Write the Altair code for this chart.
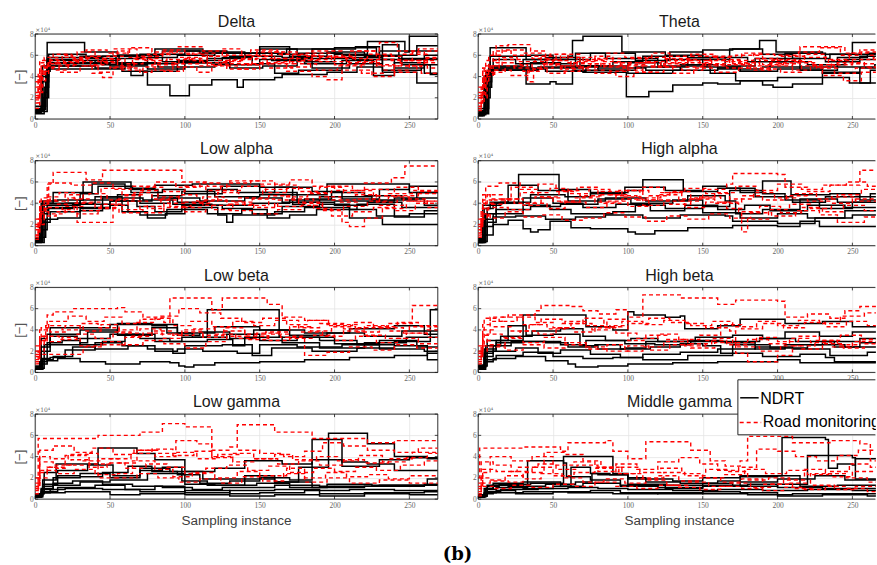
import altair as alt
import pandas as pd

X_END_LEFT = 269
X_END_RIGHT = 265.7
X_TICKS = [0, 50, 100, 150, 200, 250]
Y_TICKS = [0, 2, 4, 6, 8]
TITLES = ["Delta", "Theta", "Low alpha", "High alpha", "Low beta", "High beta", "Low gamma", "Middle gamma"]
X_TITLE = "Sampling instance"
Y_TITLE = "[\u2212]"
EXP_LABEL = "\u00d710\u2074"
LEGEND_LABELS = ["NDRT", "Road monitoring"]
CAPTION = "(b)"

# each series: flat list x0, y0, x1, y1, ... (values in units of 10^4, held until next x)
DELTA_NDRT = [
    [0,0.6, 3,0.8, 6,2.5, 8,7.2, 31,7.2, 33,6.3, 55,6.0, 85,6.4, 110,6.2, 150,6.6, 175,6.2, 205,6.0, 230,6.4, 269,6.4],
    [0,0.6, 4,1.2, 7,4.0, 9,5.0, 40,4.8, 58,4.5, 75,3.2, 90,2.2, 103,3.2, 118,3.7, 135,3.0, 139,3.7, 160,3.9, 165,4.2, 195,4.4, 215,4.9, 232,4.4, 255,3.4, 269,3.4],
    [0,0.7, 5,2.0, 8,5.8, 45,5.9, 70,6.1, 100,6.4, 128,6.2, 168,6.6, 200,6.1, 222,7.3, 247,6.3, 250,7.8, 269,7.8],
    [0,0.8, 6,3.0, 9,4.7, 38,4.7, 60,5.3, 82,4.9, 120,5.1, 150,5.6, 180,5.2, 208,5.8, 232,4.6, 258,5.1, 269,5.1],
    [0,1.0, 4,4.0, 8,5.6, 30,5.9, 54,5.2, 64,4.1, 72,4.5, 95,5.5, 125,5.8, 145,5.2, 160,4.3, 176,4.6, 205,5.5, 226,4.1, 240,5.3, 260,4.3, 269,4.3],
    [0,0.8, 5,3.5, 9,6.1, 32,6.1, 34,5.7, 70,5.8, 80,6.6, 112,6.3, 140,5.9, 165,5.8, 185,6.6, 214,6.8, 230,5.6, 269,5.6],
    [0,0.5, 6,2.0, 9,5.2, 50,5.0, 75,4.7, 100,5.3, 130,5.9, 150,6.8, 170,5.9, 195,6.3, 220,5.9, 245,5.1, 264,4.2, 269,4.2],
    [0,1.2, 5,5.0, 40,5.5, 56,6.0, 85,5.4, 115,5.7, 140,6.2, 162,6.1, 180,5.4, 200,6.7, 228,6.0, 255,6.9, 269,6.9],
    [0,0.9, 7,4.5, 10,5.5, 45,5.1, 75,5.8, 95,6.0, 120,6.2, 158,5.5, 185,4.8, 210,5.2, 232,7.0, 243,5.7, 269,5.7],
    [0,0.7, 8,5.3, 60,5.2, 95,5.3, 130,4.8, 152,5.0, 175,5.7, 212,5.6, 240,4.8, 260,6.0, 269,6.0],
]
DELTA_ROAD = [
    [0,1.5, 2,3.0, 4,5.0, 10,5.6, 18,6.0, 25,5.5, 35,5.9, 45,5.3, 55,6.4, 62,5.8, 75,6.1, 90,5.6, 105,6.2, 120,5.5, 140,6.0, 160,5.4, 180,5.9, 200,5.1, 220,5.6, 245,5.0, 260,5.7, 269,5.7],
    [0,2.0, 3,4.5, 8,5.2, 20,5.8, 32,5.0, 42,4.4, 50,4.9, 65,5.6, 80,4.6, 92,5.2, 110,5.9, 125,6.6, 138,5.7, 155,5.2, 172,6.0, 190,5.4, 210,6.4, 228,5.1, 240,4.4, 255,5.3, 269,5.3],
    [0,3.0, 2,4.0, 6,5.8, 15,5.3, 28,6.3, 40,5.7, 52,6.6, 68,5.9, 85,6.5, 100,6.1, 115,5.1, 130,5.6, 148,6.3, 165,5.7, 185,6.4, 205,5.7, 222,6.1, 238,5.5, 252,6.3, 260,5.8, 269,5.8],
    [0,1.0, 3,2.5, 5,4.8, 12,4.6, 22,5.4, 38,4.3, 45,3.9, 52,4.8, 70,4.4, 78,5.1, 95,4.9, 108,4.4, 118,5.0, 135,4.7, 150,5.3, 168,4.5, 185,4.0, 195,3.7, 205,4.6, 225,4.0, 240,5.0, 258,4.3, 269,4.3],
    [0,2.5, 4,5.3, 14,5.0, 26,5.7, 37,5.1, 48,5.9, 60,5.2, 72,5.5, 88,6.2, 103,5.5, 115,5.9, 128,5.2, 145,5.9, 158,6.3, 175,5.5, 190,5.8, 208,5.3, 230,5.9, 246,6.1, 262,6.4, 269,6.4],
    [0,1.8, 3,3.6, 7,4.9, 16,4.4, 30,5.0, 44,5.6, 58,4.6, 72,4.9, 86,4.5, 99,5.7, 112,5.3, 128,4.7, 142,5.2, 156,4.8, 172,5.2, 188,4.6, 202,5.0, 218,4.3, 233,4.6, 250,5.5, 269,5.5],
    [0,3.5, 3,5.5, 12,6.1, 24,5.6, 34,6.5, 48,6.2, 63,6.7, 78,6.3, 95,6.8, 112,6.4, 128,6.0, 144,6.5, 162,6.1, 180,6.2, 198,5.8, 214,6.4, 230,7.2, 242,6.4, 256,6.6, 269,6.6],
    [0,2.2, 2,4.2, 9,5.5, 19,5.1, 29,5.8, 42,5.4, 55,5.0, 66,5.7, 82,5.3, 96,5.8, 110,5.0, 124,5.4, 138,5.1, 152,5.7, 170,4.9, 184,5.6, 198,5.9, 214,5.4, 228,5.0, 244,5.5, 262,4.8, 269,4.8],
]

THETA_NDRT = [
    [0,0.3, 3,0.6, 6,4.5, 8,6.7, 30,6.7, 32,5.6, 60,5.9, 63,7.4, 70,7.8, 94,7.8, 96,6.3, 125,6.0, 150,6.5, 170,6.6, 188,7.4, 199,6.3, 230,6.1, 250,7.2, 269,7.2],
    [0,0.3, 4,1.0, 7,4.6, 30,4.6, 32,3.3, 48,3.5, 52,3.3, 63,4.6, 100,4.3, 130,4.6, 160,4.8, 175,4.5, 200,4.7, 230,4.3, 255,4.8, 269,4.8],
    [0,0.5, 5,2.0, 8,4.6, 40,4.8, 70,4.4, 99,2.1, 114,2.6, 130,3.2, 150,3.4, 160,3.3, 175,3.6, 190,3.2, 197,3.0, 210,3.3, 230,4.4, 255,3.4, 269,3.4],
    [0,0.8, 5,4.4, 10,5.6, 25,5.2, 45,5.8, 68,5.0, 90,5.4, 110,5.9, 140,5.6, 168,6.6, 190,6.1, 210,5.7, 235,6.1, 269,6.1],
    [0,1.0, 4,3.5, 9,4.9, 35,5.3, 55,5.0, 80,4.6, 105,4.9, 125,5.6, 150,4.9, 175,4.5, 195,5.4, 220,5.1, 245,5.6, 269,5.6],
    [0,0.6, 6,4.2, 10,5.0, 30,5.6, 50,5.2, 65,6.2, 85,5.7, 120,4.9, 140,5.8, 165,5.0, 185,5.7, 215,4.9, 240,5.8, 260,6.2, 269,6.2],
    [0,0.4, 5,3.0, 9,4.7, 45,4.5, 72,5.0, 100,5.3, 122,5.0, 155,4.3, 172,3.6, 200,3.9, 228,3.9, 248,3.4, 262,4.6, 269,4.6],
    [0,0.7, 4,4.0, 8,5.9, 35,6.0, 50,5.6, 75,6.2, 105,5.5, 128,6.3, 150,5.8, 180,5.4, 205,6.2, 232,5.4, 255,5.9, 269,5.9],
    [0,0.5, 7,4.8, 40,4.9, 80,4.8, 112,4.6, 135,5.1, 160,4.7, 190,4.9, 215,4.6, 240,4.9, 265,5.1, 269,5.1],
]
THETA_ROAD = [
    [0,1.0, 2,3.0, 5,5.5, 12,6.9, 20,7.0, 35,6.4, 45,5.6, 55,6.1, 68,5.2, 80,5.7, 95,4.6, 110,5.0, 125,5.9, 140,5.3, 155,5.8, 170,5.1, 185,5.7, 200,5.2, 215,6.8, 245,6.2, 255,6.5, 269,6.5],
    [0,2.0, 3,4.5, 8,5.0, 16,5.6, 28,5.1, 33,3.5, 37,4.8, 50,5.5, 62,4.8, 75,5.2, 88,4.5, 100,5.3, 118,4.9, 132,5.6, 148,5.0, 165,5.4, 178,4.8, 195,5.3, 210,4.6, 222,5.1, 238,4.3, 252,4.8, 269,4.8],
    [0,1.5, 4,4.0, 10,6.4, 22,6.0, 36,5.7, 48,6.1, 60,5.3, 72,5.6, 86,6.2, 98,5.8, 112,5.4, 126,5.7, 142,6.1, 158,5.9, 172,6.0, 188,5.5, 202,5.9, 218,6.1, 232,5.6, 248,6.2, 262,6.0, 269,6.0],
    [0,2.5, 3,4.8, 9,4.4, 18,5.0, 30,4.5, 42,5.2, 55,4.7, 66,5.8, 78,4.3, 92,4.0, 104,4.4, 116,4.9, 130,4.3, 144,4.8, 158,4.4, 174,5.3, 188,4.7, 202,4.4, 216,5.0, 230,4.1, 244,3.6, 256,4.4, 269,4.4],
    [0,0.8, 2,2.0, 6,4.6, 14,5.8, 26,5.4, 38,5.9, 52,5.0, 64,5.4, 78,5.9, 90,5.3, 102,5.7, 116,6.2, 128,5.5, 142,5.9, 160,5.6, 176,6.2, 190,5.1, 204,5.5, 218,5.8, 234,5.1, 250,5.6, 269,5.6],
    [0,3.0, 4,5.0, 12,5.3, 24,4.8, 36,5.4, 46,4.3, 58,5.0, 70,4.6, 84,5.0, 96,4.8, 108,5.3, 122,5.0, 136,4.6, 150,5.2, 166,4.8, 180,5.0, 196,5.6, 212,5.3, 226,4.8, 240,5.3, 258,4.9, 269,4.9],
    [0,1.2, 3,3.5, 7,6.0, 16,6.5, 30,6.2, 42,5.5, 56,5.8, 70,5.5, 84,4.9, 98,5.1, 112,5.8, 126,5.3, 140,5.5, 156,5.1, 170,5.5, 184,6.1, 198,6.0, 214,6.3, 228,6.7, 242,6.0, 256,6.3, 269,6.3],
    [0,2.2, 5,4.2, 11,4.6, 22,4.1, 34,4.7, 44,5.1, 56,4.5, 68,4.9, 82,5.4, 96,5.0, 110,4.4, 124,5.2, 138,4.9, 152,5.5, 168,5.2, 182,4.6, 196,5.0, 210,5.4, 224,4.9, 236,5.5, 250,5.2, 264,5.8, 269,5.8],
]

LOW_ALPHA_NDRT = [
    [0,0.4, 3,1.0, 5,4.2, 15,4.3, 32,6.0, 62,6.0, 64,5.0, 85,5.3, 100,4.9, 125,5.6, 150,5.0, 175,4.8, 195,5.8, 240,5.8, 250,5.0, 269,5.0],
    [0,0.3, 4,0.8, 7,2.5, 15,2.6, 30,3.5, 50,3.8, 62,3.2, 75,2.6, 87,3.0, 100,3.6, 122,2.9, 128,2.2, 132,2.9, 160,3.2, 180,3.6, 210,2.6, 232,2.0, 269,2.0],
    [0,0.5, 4,3.5, 8,3.8, 30,4.3, 55,4.8, 70,4.0, 90,4.5, 110,4.2, 140,4.5, 165,4.1, 190,4.6, 225,4.3, 255,5.0, 269,5.0],
    [0,0.6, 3,2.0, 6,4.0, 30,4.9, 42,5.6, 65,5.3, 82,4.5, 95,4.1, 115,5.3, 135,5.0, 160,5.5, 185,5.1, 205,4.4, 230,5.3, 250,5.6, 269,5.6],
    [0,0.4, 5,3.0, 9,3.6, 32,3.6, 50,4.2, 68,3.7, 80,3.2, 98,3.8, 125,3.5, 145,3.0, 165,3.7, 190,3.9, 210,3.4, 228,2.8, 250,3.0, 269,3.0],
    [0,0.7, 4,4.0, 12,5.0, 30,5.0, 38,5.8, 60,5.4, 80,5.7, 105,5.8, 130,5.8, 150,5.5, 172,3.9, 180,4.4, 198,5.0, 220,4.7, 245,4.4, 260,3.8, 269,3.8],
    [0,0.3, 6,2.2, 10,3.2, 30,3.3, 45,4.5, 72,4.3, 92,3.9, 118,3.8, 145,4.0, 170,4.3, 200,4.2, 240,4.5, 269,4.5],
    [0,0.5, 5,3.8, 20,4.0, 40,4.6, 58,3.2, 70,2.9, 88,3.4, 115,3.0, 138,3.4, 155,2.6, 170,2.9, 188,3.4, 215,3.9, 240,2.7, 260,3.3, 269,3.3],
    [0,0.4, 3,1.5, 8,3.5, 25,3.9, 50,4.2, 78,4.7, 98,5.1, 120,4.6, 150,4.8, 175,4.1, 200,3.8, 222,4.1, 245,3.6, 269,3.6],
]
LOW_ALPHA_ROAD = [
    [0,1.0, 3,3.5, 8,5.8, 12,6.9, 30,6.9, 34,6.2, 45,7.1, 95,7.1, 98,6.0, 115,5.6, 130,6.1, 150,5.8, 170,6.2, 185,5.6, 200,5.2, 220,5.9, 238,6.4, 247,7.5, 269,7.5],
    [0,0.8, 2,2.5, 6,4.3, 14,3.9, 22,4.5, 28,2.2, 50,2.2, 52,3.8, 62,4.2, 75,3.5, 86,4.0, 100,3.6, 112,4.3, 128,3.9, 145,4.4, 160,3.7, 178,4.1, 192,3.4, 205,2.2, 210,1.8, 220,2.6, 232,3.5, 248,4.2, 269,4.2],
    [0,2.0, 4,4.5, 10,4.2, 20,4.8, 32,4.1, 44,5.4, 58,4.7, 70,5.2, 82,4.3, 96,4.8, 108,4.2, 122,5.0, 136,4.5, 152,5.3, 168,4.6, 182,4.9, 196,4.3, 214,4.8, 228,4.1, 242,4.7, 256,5.1, 269,5.1],
    [0,1.5, 3,3.0, 7,3.6, 18,3.4, 26,4.0, 40,3.6, 54,4.4, 66,5.0, 78,4.4, 90,3.7, 104,4.0, 118,3.4, 132,4.1, 146,3.6, 162,4.3, 176,4.0, 190,4.6, 204,4.1, 216,4.4, 230,3.8, 246,4.4, 262,3.6, 269,3.6],
    [0,2.5, 4,3.8, 9,5.9, 24,5.7, 38,5.9, 52,5.3, 64,5.6, 80,6.0, 94,5.5, 110,5.9, 124,5.2, 138,5.6, 154,5.0, 168,5.4, 184,5.0, 198,5.6, 212,5.2, 226,4.7, 240,5.5, 256,4.9, 269,4.9],
    [0,0.6, 2,2.0, 6,2.8, 14,3.2, 28,3.0, 42,3.5, 56,3.1, 70,3.7, 84,4.6, 98,4.1, 112,4.6, 126,4.2, 140,3.8, 156,4.7, 170,4.4, 186,3.5, 198,2.8, 212,3.2, 226,3.6, 240,3.3, 254,4.0, 269,4.0],
    [0,1.8, 3,4.2, 8,4.6, 16,5.0, 26,4.4, 36,4.9, 48,4.3, 60,4.8, 72,5.5, 86,5.1, 100,5.6, 114,5.2, 128,5.9, 144,6.1, 160,5.7, 176,5.1, 190,5.5, 206,5.0, 220,5.3, 236,4.9, 252,5.2, 269,5.2],
    [0,1.0, 3,3.2, 9,3.0, 20,3.7, 32,3.3, 44,3.9, 58,3.4, 72,3.1, 86,3.6, 100,3.2, 114,3.8, 130,3.3, 146,3.0, 162,3.4, 178,3.8, 192,3.3, 206,3.7, 222,4.2, 236,4.6, 250,4.2, 269,4.2],
]

HIGH_ALPHA_NDRT = [
    [0,0.3, 3,1.0, 6,3.5, 10,4.0, 27,6.7, 52,6.7, 54,5.3, 75,5.0, 100,5.2, 110,6.2, 135,6.2, 137,5.1, 160,5.4, 175,5.0, 190,6.1, 207,6.1, 209,4.8, 235,4.9, 255,4.6, 269,4.6],
    [0,0.3, 5,1.0, 10,2.0, 20,2.4, 30,1.6, 35,1.3, 40,1.5, 48,2.3, 62,1.7, 75,1.6, 100,1.3, 105,1.1, 118,1.4, 140,1.7, 170,1.9, 200,1.8, 215,2.3, 228,1.8, 269,1.8],
    [0,0.5, 4,2.5, 10,3.0, 30,3.8, 48,3.4, 62,3.0, 90,3.2, 105,3.8, 125,3.5, 150,3.1, 175,2.6, 200,3.0, 220,2.6, 245,3.3, 269,3.3],
    [0,0.6, 4,3.5, 8,4.1, 20,5.7, 40,5.2, 60,4.2, 85,4.5, 112,4.2, 140,4.7, 165,4.2, 172,3.0, 190,3.4, 215,4.4, 240,4.1, 262,4.9, 269,4.9],
    [0,0.4, 6,2.2, 12,3.4, 35,3.7, 55,3.9, 80,4.4, 102,4.0, 130,4.3, 150,3.7, 168,5.2, 190,4.9, 205,4.3, 228,3.5, 250,4.1, 269,4.1],
    [0,0.5, 5,3.0, 12,4.0, 30,4.5, 50,4.0, 70,3.6, 92,3.9, 115,3.3, 138,3.8, 160,3.4, 178,3.8, 195,3.3, 220,3.8, 245,3.6, 269,3.6],
    [0,0.3, 4,1.8, 10,2.7, 25,2.8, 45,2.5, 65,2.7, 85,2.9, 110,2.6, 135,2.9, 165,2.8, 170,2.3, 200,2.1, 225,2.6, 250,2.9, 269,2.9],
    [0,0.7, 3,3.8, 15,4.1, 35,4.8, 58,4.6, 75,4.9, 98,5.5, 125,5.2, 150,5.6, 166,5.4, 185,4.6, 210,4.1, 232,4.6, 255,4.3, 269,4.3],
]
HIGH_ALPHA_ROAD = [
    [0,1.2, 2,3.5, 5,5.6, 14,5.9, 28,5.3, 40,5.8, 52,5.1, 66,5.5, 80,4.8, 94,5.2, 108,4.5, 122,5.0, 136,4.4, 150,5.3, 166,5.8, 170,6.8, 200,6.7, 205,5.5, 220,5.1, 235,5.7, 255,7.1, 269,7.1],
    [0,2.0, 3,4.3, 9,3.9, 18,4.4, 30,3.8, 42,4.5, 55,4.1, 68,4.6, 82,4.0, 96,4.4, 110,3.8, 124,4.2, 138,3.6, 152,4.1, 166,3.5, 176,1.3, 180,2.5, 194,3.4, 208,3.9, 222,3.5, 236,4.0, 250,4.4, 269,4.4],
    [0,0.8, 2,2.5, 6,4.8, 16,4.4, 28,5.0, 40,4.6, 54,5.2, 68,4.7, 82,5.1, 96,4.6, 110,5.5, 124,5.0, 138,5.4, 152,4.9, 168,4.4, 184,5.0, 198,4.5, 212,4.9, 226,4.4, 240,4.8, 256,5.3, 269,5.3],
    [0,1.5, 3,3.0, 8,2.6, 18,3.2, 30,2.7, 42,2.9, 56,2.4, 70,2.6, 84,3.1, 98,2.7, 112,2.3, 126,2.8, 140,2.5, 154,3.0, 168,2.6, 182,3.1, 196,2.8, 212,3.3, 228,2.9, 240,2.2, 258,2.7, 269,2.7],
    [0,2.5, 3,4.8, 8,4.4, 22,5.5, 36,5.0, 48,5.4, 60,4.9, 74,5.3, 88,4.8, 100,5.2, 114,4.7, 128,5.1, 142,4.5, 158,5.0, 172,5.6, 186,5.2, 200,5.8, 216,5.3, 230,5.7, 246,6.0, 260,5.6, 269,5.6],
    [0,1.0, 2,2.8, 7,3.6, 20,3.4, 34,4.0, 46,3.5, 58,4.1, 72,3.6, 86,4.2, 100,3.7, 114,4.3, 128,3.9, 142,4.4, 158,4.0, 174,3.2, 188,3.7, 202,3.1, 216,3.6, 230,3.2, 244,3.8, 258,3.3, 269,3.3],
    [0,1.8, 3,4.0, 10,4.3, 24,4.0, 38,4.6, 50,4.2, 64,4.5, 78,4.1, 92,4.7, 106,4.3, 120,4.8, 134,4.2, 148,4.6, 162,4.1, 176,4.7, 190,4.3, 206,4.7, 220,4.2, 236,4.6, 252,4.2, 269,4.2],
]

LOW_BETA_NDRT = [
    [0,0.3, 3,0.8, 8,1.1, 15,1.3, 30,1.0, 46,1.0, 47,0.8, 70,1.0, 90,0.9, 96,0.6, 100,0.5, 106,0.7, 120,0.9, 150,1.0, 180,1.2, 210,1.4, 240,1.6, 262,1.8, 269,1.8],
    [0,0.4, 4,2.0, 10,4.2, 30,4.2, 50,4.5, 85,4.5, 95,3.7, 120,4.3, 150,4.0, 180,3.7, 210,4.1, 240,4.4, 260,3.6, 269,3.6],
    [0,0.5, 3,1.0, 8,2.8, 18,3.0, 30,2.6, 45,2.9, 60,3.6, 80,2.9, 98,3.3, 115,5.9, 161,5.9, 163,3.3, 190,3.0, 215,2.6, 240,2.9, 264,5.9, 269,5.9],
    [0,0.3, 5,1.3, 10,1.4, 20,2.1, 40,2.8, 58,2.5, 75,2.2, 92,1.8, 100,2.5, 125,2.6, 145,1.6, 158,2.3, 185,2.0, 215,2.3, 240,2.5, 262,1.2, 269,1.2],
    [0,0.6, 4,3.2, 8,3.6, 30,4.0, 55,3.5, 78,4.2, 95,3.5, 110,3.8, 130,3.2, 146,4.0, 170,3.5, 195,3.7, 220,3.4, 245,3.9, 269,3.9],
    [0,0.4, 6,2.6, 30,2.8, 35,3.8, 55,4.6, 78,4.4, 88,3.7, 105,3.3, 128,3.6, 150,3.0, 175,3.3, 200,2.7, 230,3.0, 255,2.4, 269,2.4],
    [0,0.3, 5,1.2, 12,1.5, 25,2.4, 40,2.2, 62,2.5, 80,2.0, 95,2.2, 112,2.0, 135,1.8, 150,2.6, 175,2.4, 205,2.6, 230,2.2, 260,2.0, 269,2.0],
    [0,0.5, 4,2.4, 10,3.4, 28,3.2, 50,3.6, 70,3.2, 90,2.9, 115,3.1, 132,2.5, 140,3.3, 165,2.8, 190,2.3, 220,2.8, 248,3.3, 269,3.3],
]
LOW_BETA_ROAD = [
    [0,1.0, 3,3.0, 8,5.4, 12,5.7, 25,6.0, 55,6.1, 60,5.7, 72,5.2, 86,4.7, 90,7.0, 115,7.0, 118,5.9, 125,7.0, 150,7.0, 155,6.4, 165,5.2, 180,4.9, 195,4.5, 215,4.2, 235,4.6, 252,6.3, 269,6.3],
    [0,1.7, 30,1.7, 32,2.4, 45,2.6, 60,3.3, 72,3.7, 85,3.2, 98,3.8, 112,3.3, 126,4.2, 140,3.6, 155,3.0, 170,3.4, 180,1.6, 195,1.9, 210,2.4, 225,2.1, 240,2.6, 255,2.3, 269,2.3],
    [0,2.5, 4,4.2, 10,3.8, 20,4.4, 32,3.9, 44,4.5, 56,4.0, 68,4.7, 80,5.1, 92,4.4, 104,4.8, 118,4.3, 132,4.8, 146,4.4, 160,4.9, 176,4.2, 190,4.6, 206,4.1, 220,4.4, 236,3.9, 250,4.3, 269,4.3],
    [0,0.8, 2,2.0, 6,3.4, 16,3.1, 28,3.6, 40,3.2, 52,3.8, 64,3.4, 78,3.9, 92,3.5, 106,4.1, 120,3.6, 134,3.2, 148,3.7, 164,3.3, 178,3.8, 192,3.4, 206,3.9, 220,3.5, 234,3.2, 248,3.7, 262,3.3, 269,3.3],
    [0,1.5, 3,4.0, 9,4.8, 22,5.3, 34,4.8, 46,5.2, 58,4.6, 70,5.0, 84,5.3, 96,6.0, 110,5.6, 124,5.1, 138,4.7, 152,5.1, 168,4.5, 182,4.9, 196,4.4, 212,4.7, 226,4.3, 242,4.7, 256,4.4, 269,4.4],
    [0,2.0, 3,3.4, 8,2.9, 18,3.3, 30,2.5, 44,2.9, 58,2.6, 72,3.0, 86,2.7, 100,2.3, 114,2.9, 128,3.4, 142,3.1, 156,3.6, 170,3.2, 186,3.5, 200,3.0, 214,3.4, 228,2.8, 242,3.2, 256,2.7, 269,2.7],
    [0,1.2, 3,3.0, 7,4.4, 18,4.0, 30,4.6, 42,4.2, 56,3.7, 70,4.1, 84,3.6, 98,4.0, 112,3.5, 126,3.9, 140,3.4, 154,3.8, 170,4.3, 184,3.9, 198,4.3, 214,3.8, 230,4.2, 246,3.7, 262,4.0, 269,4.0],
]

HIGH_BETA_NDRT = [
    [0,0.5, 5,1.0, 10,1.3, 25,1.5, 45,1.1, 60,0.8, 65,0.5, 80,0.6, 100,0.8, 130,0.9, 160,1.0, 190,1.0, 200,1.2, 215,0.9, 240,0.9, 269,0.9],
    [0,0.6, 5,2.0, 12,3.0, 28,3.0, 30,5.4, 70,5.4, 72,4.3, 90,4.0, 100,5.7, 104,5.4, 125,5.2, 135,5.3, 138,4.1, 160,4.4, 175,5.0, 200,5.0, 205,4.6, 230,4.8, 250,4.3, 269,4.3],
    [0,0.4, 4,1.5, 10,2.0, 25,2.3, 40,1.8, 55,2.1, 75,1.7, 95,1.4, 110,1.7, 135,1.9, 160,2.2, 185,2.4, 210,2.2, 235,1.6, 260,1.9, 269,1.9],
    [0,0.7, 5,2.5, 15,3.4, 28,3.4, 36,3.9, 55,4.1, 70,3.4, 85,3.0, 102,3.2, 120,2.9, 145,3.3, 170,3.5, 190,3.2, 205,3.8, 228,3.4, 250,3.8, 269,3.8],
    [0,0.5, 4,1.8, 10,2.5, 22,2.9, 45,2.8, 60,2.4, 78,2.6, 95,2.2, 115,2.4, 135,2.7, 150,2.5, 162,1.8, 170,2.6, 195,2.3, 220,2.6, 245,2.4, 269,2.4],
    [0,0.6, 6,3.0, 20,4.4, 28,4.4, 32,3.5, 50,3.6, 68,2.5, 80,2.2, 98,2.3, 112,2.9, 140,3.0, 162,2.9, 188,3.2, 212,2.9, 238,2.4, 255,2.8, 269,2.8],
    [0,0.3, 5,1.2, 12,1.6, 30,1.9, 50,1.5, 70,1.3, 90,1.4, 110,1.2, 140,1.6, 170,1.8, 190,1.5, 215,1.7, 232,1.4, 238,1.0, 269,1.0],
    [0,0.5, 4,2.2, 12,2.8, 30,2.9, 55,2.6, 72,3.0, 98,2.7, 118,2.6, 142,2.9, 165,2.8, 185,2.2, 205,2.6, 230,2.9, 255,3.2, 269,3.2],
]
HIGH_BETA_ROAD = [
    [0,2.0, 3,4.5, 8,5.2, 20,5.4, 38,5.8, 42,6.3, 62,6.2, 70,5.8, 80,5.5, 92,5.9, 100,5.2, 110,7.3, 135,7.0, 160,6.4, 172,6.8, 200,6.7, 205,5.2, 220,5.5, 235,5.1, 245,5.8, 255,6.2, 269,6.2],
    [0,1.5, 3,3.5, 8,4.8, 16,5.2, 30,4.5, 42,5.0, 56,4.6, 70,5.1, 84,4.3, 96,4.8, 110,4.5, 124,4.9, 138,4.6, 152,4.2, 168,3.9, 172,1.8, 180,1.0, 200,1.6, 210,2.5, 225,3.0, 240,2.6, 255,3.1, 269,3.1],
    [0,1.0, 2,2.5, 6,3.6, 16,3.3, 28,3.9, 40,3.6, 52,4.2, 64,3.8, 78,4.2, 92,3.7, 106,3.2, 120,3.6, 134,3.1, 148,3.5, 162,4.5, 176,4.1, 190,4.6, 204,4.2, 218,4.7, 232,4.3, 246,4.8, 260,4.4, 269,4.4],
    [0,2.5, 4,5.1, 14,4.8, 26,5.2, 38,4.7, 50,4.2, 62,4.6, 76,4.0, 88,4.4, 100,3.0, 112,3.5, 126,3.1, 140,2.7, 156,3.2, 170,2.8, 186,3.3, 200,2.9, 214,3.4, 228,3.0, 242,3.5, 256,3.1, 269,3.1],
    [0,1.2, 3,3.0, 8,2.6, 18,3.2, 30,2.8, 44,3.3, 58,2.6, 72,2.2, 86,2.6, 98,2.0, 110,2.4, 124,2.9, 138,2.5, 152,3.0, 166,2.6, 180,3.1, 194,2.7, 208,3.2, 222,2.8, 236,2.4, 250,2.9, 269,2.9],
    [0,1.8, 3,4.0, 10,4.3, 22,3.9, 34,4.5, 46,4.1, 58,4.8, 72,4.4, 86,5.0, 100,4.6, 114,5.1, 128,4.7, 142,4.4, 156,4.8, 170,4.3, 186,4.8, 200,4.4, 214,4.9, 228,4.6, 242,5.3, 258,5.6, 269,5.6],
    [0,0.8, 2,2.0, 6,2.4, 18,2.1, 30,2.6, 44,2.3, 58,2.8, 72,2.4, 86,2.0, 100,2.5, 114,2.1, 128,2.6, 142,2.3, 158,2.8, 172,2.4, 188,2.0, 202,2.5, 216,2.2, 230,2.7, 244,2.3, 258,2.7, 269,2.7],
]

LOW_GAMMA_NDRT = [
    [0,0.2, 4,0.6, 10,0.9, 20,1.0, 45,0.9, 70,0.7, 100,0.8, 130,0.5, 150,0.6, 180,0.8, 210,0.9, 240,0.8, 269,0.8],
    [0,0.3, 5,1.2, 12,1.5, 25,1.7, 45,1.4, 65,1.2, 85,1.1, 105,0.9, 125,1.1, 160,1.3, 190,1.2, 230,1.3, 269,1.3],
    [0,0.4, 5,1.8, 14,3.3, 30,3.3, 42,4.8, 65,4.8, 68,4.3, 80,3.7, 100,2.6, 120,2.9, 140,3.6, 165,3.3, 185,3.7, 205,3.1, 230,3.7, 250,3.9, 269,3.9],
    [0,0.3, 4,1.0, 12,2.0, 30,2.1, 45,2.5, 62,3.1, 78,2.6, 95,2.3, 110,1.5, 130,1.7, 150,2.0, 170,1.8, 185,5.6, 203,5.6, 205,3.5, 222,3.3, 240,2.7, 269,2.7],
    [0,0.5, 6,2.5, 15,2.7, 35,3.2, 52,2.2, 70,2.7, 85,3.0, 98,1.7, 115,1.3, 140,1.9, 160,1.6, 185,1.1, 220,1.2, 260,1.4, 269,1.4],
    [0,0.2, 4,0.7, 15,1.1, 40,1.3, 60,0.9, 80,1.2, 100,0.6, 130,0.8, 160,0.9, 190,0.5, 220,0.6, 260,0.7, 269,0.7],
    [0,0.4, 5,1.4, 15,2.2, 30,2.4, 50,2.0, 70,2.9, 90,2.6, 112,1.9, 140,2.2, 160,1.6, 176,3.0, 196,6.2, 218,6.2, 222,5.2, 240,4.0, 262,3.8, 269,3.8],
    [0,0.3, 4,0.9, 12,1.3, 30,1.6, 50,1.8, 75,2.4, 100,1.4, 120,1.3, 148,1.5, 170,1.1, 195,1.4, 225,1.3, 262,1.9, 269,1.9],
    [0,0.2, 5,0.6, 20,0.7, 50,0.4, 70,0.5, 100,0.4, 130,0.3, 160,0.4, 190,0.3, 220,0.5, 250,0.4, 269,0.4],
]
LOW_GAMMA_ROAD = [
    [0,0.5, 2,5.7, 38,5.7, 42,6.0, 70,6.3, 85,7.1, 100,6.8, 115,6.8, 118,4.6, 130,4.9, 135,7.0, 158,7.0, 160,6.3, 180,6.3, 185,5.7, 215,5.7, 222,5.3, 240,5.5, 269,5.5],
    [0,1.0, 3,2.5, 8,3.0, 14,2.9, 20,4.1, 34,4.3, 42,2.0, 55,2.4, 65,3.6, 80,2.8, 92,2.1, 105,2.5, 120,2.0, 135,2.6, 150,2.2, 168,2.9, 180,1.6, 195,2.0, 210,1.5, 230,1.8, 250,1.5, 269,1.5],
    [0,1.5, 3,4.6, 12,5.0, 26,4.4, 38,4.8, 52,4.2, 66,4.6, 80,4.0, 94,4.4, 108,3.8, 122,4.2, 136,4.6, 150,4.3, 166,4.0, 180,4.5, 192,5.3, 206,5.0, 222,4.6, 240,4.4, 256,4.8, 269,4.8],
    [0,0.8, 2,2.0, 8,3.0, 20,3.2, 32,3.6, 44,3.8, 56,3.4, 68,4.6, 82,4.3, 94,5.5, 108,5.2, 118,4.0, 132,3.5, 146,3.8, 162,3.3, 176,3.6, 190,3.2, 206,3.7, 220,3.4, 236,3.8, 252,4.4, 269,4.4],
    [0,2.0, 3,4.0, 10,3.8, 22,4.2, 36,3.0, 48,3.4, 60,2.9, 74,3.3, 88,3.0, 100,2.4, 114,2.9, 128,3.2, 142,2.7, 156,3.1, 170,2.5, 186,2.9, 200,2.6, 214,3.0, 228,2.7, 244,3.2, 260,3.6, 269,3.6],
    [0,1.2, 3,2.7, 14,2.4, 26,2.8, 40,2.3, 54,2.0, 68,2.4, 82,2.0, 96,1.6, 110,1.9, 124,1.5, 138,2.1, 152,1.7, 166,2.4, 180,2.0, 194,2.5, 208,2.1, 222,2.3, 236,1.9, 250,2.2, 269,2.2],
    [0,1.0, 3,3.5, 12,3.2, 24,3.7, 36,3.3, 50,3.8, 64,4.3, 78,4.7, 92,4.1, 106,4.5, 118,3.9, 132,4.3, 146,3.8, 160,4.2, 172,3.7, 188,4.0, 202,3.6, 216,4.1, 232,3.5, 248,3.9, 262,4.3, 269,4.3],
]

MID_GAMMA_NDRT = [
    [0,0.2, 4,0.5, 10,0.6, 30,0.7, 60,0.6, 90,0.5, 120,0.6, 150,0.5, 180,0.4, 210,0.5, 240,0.5, 269,0.5],
    [0,0.3, 5,0.9, 12,1.1, 33,3.6, 57,3.4, 59,2.1, 75,1.8, 95,1.3, 120,1.1, 150,1.3, 180,1.4, 200,1.1, 230,1.0, 269,1.0],
    [0,0.3, 6,1.2, 14,1.4, 35,1.5, 57,4.0, 88,4.0, 90,2.4, 100,2.0, 112,1.6, 135,1.5, 160,1.7, 175,2.1, 200,2.2, 215,1.2, 240,1.3, 269,1.3],
    [0,0.2, 5,0.7, 15,0.9, 40,1.0, 60,1.1, 80,1.0, 100,0.9, 130,0.8, 160,0.9, 190,0.8, 220,0.9, 250,0.8, 269,0.8],
    [0,0.4, 4,1.0, 10,1.5, 30,1.6, 55,1.2, 62,3.0, 75,2.4, 80,2.3, 100,1.9, 130,1.7, 150,2.0, 175,2.2, 203,5.8, 232,5.6, 234,2.9, 240,3.3, 250,3.2, 252,3.8, 269,3.8],
    [0,0.3, 5,1.0, 10,1.3, 30,1.0, 50,1.2, 70,1.5, 95,1.2, 120,1.3, 150,1.5, 170,1.2, 200,1.4, 220,4.1, 250,3.9, 252,1.9, 269,1.9],
    [0,0.2, 4,0.6, 12,0.8, 25,0.5, 50,0.7, 75,0.8, 95,0.6, 120,0.5, 150,0.7, 175,0.6, 200,0.3, 230,0.4, 260,0.3, 269,0.3],
    [0,0.3, 6,1.3, 20,1.2, 45,1.4, 65,1.6, 76,2.4, 88,2.3, 100,1.4, 125,1.0, 150,1.2, 175,1.6, 200,1.9, 225,2.2, 245,1.8, 269,1.8],
]
MID_GAMMA_ROAD = [
    [0,2.0, 1,4.8, 30,4.9, 55,4.5, 60,5.3, 85,5.5, 90,4.5, 100,3.8, 112,5.4, 140,5.4, 142,4.6, 155,3.6, 165,3.1, 175,3.6, 180,5.9, 205,5.9, 210,5.3, 235,5.5, 255,5.2, 262,3.6, 269,3.6],
    [0,0.5, 2,1.5, 8,1.7, 20,1.6, 30,2.5, 44,4.4, 58,4.2, 70,3.6, 82,3.0, 96,2.4, 110,2.0, 124,2.5, 138,2.2, 152,2.8, 166,2.6, 180,1.8, 194,2.0, 208,1.5, 222,2.4, 236,2.1, 250,2.6, 269,2.6],
    [0,1.0, 3,2.5, 8,4.0, 22,3.6, 36,4.0, 50,3.2, 64,3.5, 78,3.0, 92,3.3, 106,2.8, 120,3.5, 134,3.9, 148,3.3, 160,2.7, 174,3.0, 186,4.7, 200,4.5, 212,4.0, 226,3.6, 240,4.1, 254,4.6, 269,4.6],
    [0,1.5, 2,3.5, 10,3.2, 22,2.6, 36,3.0, 50,2.2, 64,2.5, 78,2.9, 92,2.4, 106,1.9, 120,2.2, 134,1.7, 148,2.0, 162,1.6, 176,1.9, 190,1.4, 204,1.8, 218,2.8, 232,2.4, 246,2.0, 260,1.6, 269,1.6],
    [0,0.7, 2,2.0, 8,1.8, 18,2.2, 30,1.9, 42,2.4, 56,2.0, 70,1.6, 84,1.9, 98,1.5, 112,1.8, 126,1.3, 140,1.6, 154,1.2, 168,1.5, 182,1.1, 196,1.4, 210,1.0, 224,1.3, 238,0.9, 252,1.2, 269,1.2],
    [0,0.3, 2,1.2, 10,1.0, 22,1.3, 36,1.1, 50,1.4, 64,1.2, 78,1.6, 92,1.2, 106,1.0, 120,1.3, 134,1.1, 148,0.9, 162,1.2, 176,1.0, 190,0.8, 204,1.1, 218,0.9, 232,1.2, 246,1.0, 260,0.7, 269,0.7],
    [0,1.2, 3,2.8, 12,2.6, 26,3.0, 40,3.3, 52,2.8, 66,3.2, 80,2.6, 94,3.0, 108,2.5, 122,2.9, 136,2.4, 150,2.0, 164,2.3, 178,2.8, 192,2.4, 206,2.7, 220,2.3, 234,2.6, 248,3.3, 262,3.0, 269,3.0],
]

PANEL_DATA = [
    (DELTA_NDRT, DELTA_ROAD), (THETA_NDRT, THETA_ROAD),
    (LOW_ALPHA_NDRT, LOW_ALPHA_ROAD), (HIGH_ALPHA_NDRT, HIGH_ALPHA_ROAD),
    (LOW_BETA_NDRT, LOW_BETA_ROAD), (HIGH_BETA_NDRT, HIGH_BETA_ROAD),
    (LOW_GAMMA_NDRT, LOW_GAMMA_ROAD), (MID_GAMMA_NDRT, MID_GAMMA_ROAD),
]

W_LEFT, W_RIGHT, H = 402.6, 397.7, 85
TITLE_X = 201.3
RED = "#ff0000"
DASH = [4, 3]
FRAME = "#1a1a1a"


def series_frame(series_list, tag):
    rows = []
    for k, s in enumerate(series_list):
        for j in range(0, len(s), 2):
            rows.append({"x": s[j], "y": s[j + 1], "sid": f"{tag}{k}"})
    return pd.DataFrame(rows)


ONE = pd.DataFrame({"a": [0]})


def vrule(x, y1, y2, **kw):
    return alt.Chart(ONE).mark_rule(**kw).encode(x=alt.value(x), y=alt.value(y1), y2=alt.value(y2))


def hrule(y, x1, x2, **kw):
    return alt.Chart(ONE).mark_rule(**kw).encode(y=alt.value(y), x=alt.value(x1), x2=alt.value(x2))


def label(text, x, y, **kw):
    return alt.Chart(pd.DataFrame({"t": [text]})).mark_text(**kw).encode(
        x=alt.value(x), y=alt.value(y), text="t:N")


def make_panel(idx):
    ndrt, road = PANEL_DATA[idx]
    left = idx % 2 == 0
    bottom = idx >= 6
    W = W_LEFT if left else W_RIGHT
    xscale = alt.Scale(domain=[0, X_END_LEFT if left else X_END_RIGHT], nice=False, zero=False)
    yscale = alt.Scale(domain=[0, 8], nice=False, zero=False)
    xaxis = alt.Axis(values=X_TICKS, title=None, labelFlush=False)
    yaxis = alt.Axis(values=Y_TICKS, title=Y_TITLE if left else None)
    X = alt.X("x:Q", scale=xscale, axis=xaxis)
    Y = alt.Y("y:Q", scale=yscale, axis=yaxis)

    black = alt.Chart(series_frame(ndrt, "n")).mark_line(
        color="black", strokeWidth=1.5, interpolate="step-after", clip=True
    ).encode(x=X, y=Y, detail="sid:N")
    red = alt.Chart(series_frame(road, "r")).mark_line(
        color=RED, strokeWidth=1.4, strokeDash=DASH, interpolate="step-after", clip=True
    ).encode(x=X, y=Y, detail="sid:N")

    xt = pd.DataFrame({"x": X_TICKS})
    yt = pd.DataFrame({"y": Y_TICKS})
    tick_style = dict(color=FRAME, strokeWidth=0.8)
    layers = [
        alt.Chart(xt).mark_rule(**tick_style).encode(x=X, y=alt.value(H), y2=alt.value(H - 3)),
        alt.Chart(xt).mark_rule(**tick_style).encode(x=X, y=alt.value(0), y2=alt.value(3)),
        alt.Chart(yt).mark_rule(**tick_style).encode(y=Y, x=alt.value(0), x2=alt.value(3)),
    ]
    if left:
        layers.append(alt.Chart(yt).mark_rule(**tick_style).encode(y=Y, x=alt.value(W - 3), x2=alt.value(W)))
    fw = dict(color=FRAME, strokeWidth=0.9)
    xr = W if left else W - 0.5
    layers += [hrule(0, 0, xr, **fw), hrule(H, 0, xr, **fw), vrule(0, 0, H, **fw)]
    if left:
        layers.append(vrule(W, 0, H, **fw))
    layers += [black, red]
    layers.append(label(EXP_LABEL, 0, -1.5, align="left", baseline="bottom", font="DejaVu Serif",
                        fontSize=6, color="#666666"))
    layers.append(label(TITLES[idx], TITLE_X, -6.6, align="center", baseline="alphabetic",
                        font="Liberation Sans", fontSize=16, color="#1a1a1a"))
    if bottom:
        layers.append(label(X_TITLE, TITLE_X if left else TITLE_X, 110.7, align="center",
                            baseline="alphabetic", font="Liberation Sans", fontSize=13.5, color="#404040"))

    if idx == 7:
        bx0, by0, by1 = 259.7, -34.3, 20.7
        box = alt.Chart(ONE).mark_rect(fill="white", clip=False).encode(
            x=alt.value(bx0), x2=alt.value(W), y=alt.value(by0), y2=alt.value(by1))
        bs = dict(color="#262626", strokeWidth=1)
        l1 = hrule(-16.3, 262, 280.5, color="black", strokeWidth=1.5)
        l2 = hrule(8.4, 261.5, 283, color=RED, strokeWidth=1.4, strokeDash=DASH)
        t1 = label(LEGEND_LABELS[0], 282.0, -10.0, align="left", baseline="alphabetic",
                   font="Liberation Sans", fontSize=16, color="black")
        t2 = alt.Chart(pd.DataFrame({"t": [LEGEND_LABELS[1]]})).mark_text(
            align="left", baseline="alphabetic", font="Liberation Sans", fontSize=16,
            color="black", clip=True).encode(x=alt.value(284.5), y=alt.value(13.4), text="t:N")
        layers += [box, hrule(by0, bx0, W - 0.5, **bs), hrule(by1, bx0, W - 0.5, **bs),
                   vrule(bx0, by0, by1, **bs), l1, l2, t1, t2]
    if idx == 6:
        layers.append(label(CAPTION, 422.3, 146.0, align="center", baseline="alphabetic",
                            font="DejaVu Serif", fontSize=18, fontWeight="bold", color="black"))

    return alt.layer(*layers).properties(width=W, height=H)


panels = [make_panel(i) for i in range(8)]

chart = alt.concat(
    *panels, columns=2, spacing=alt.RowColnumber(row=41.7, column=40), bounds="flush"
).properties(
    padding={"left": 13.2, "top": 14, "right": 0, "bottom": 0}, background="white"
).configure_view(
    strokeWidth=0
).configure_axis(
    labelFont="Liberation Serif", labelFontSize=7.5, labelColor="#666666", labelPadding=2,
    ticks=False, domain=False, grid=True, gridColor="#e4e4e4", gridWidth=0.8,
    titleFont="Liberation Sans", titleFontWeight="normal", titleColor="#555555",
    titleFontSize=13, titlePadding=3,
)

chart.save("out.html", embed_options={"renderer": "svg", "actions": False})
